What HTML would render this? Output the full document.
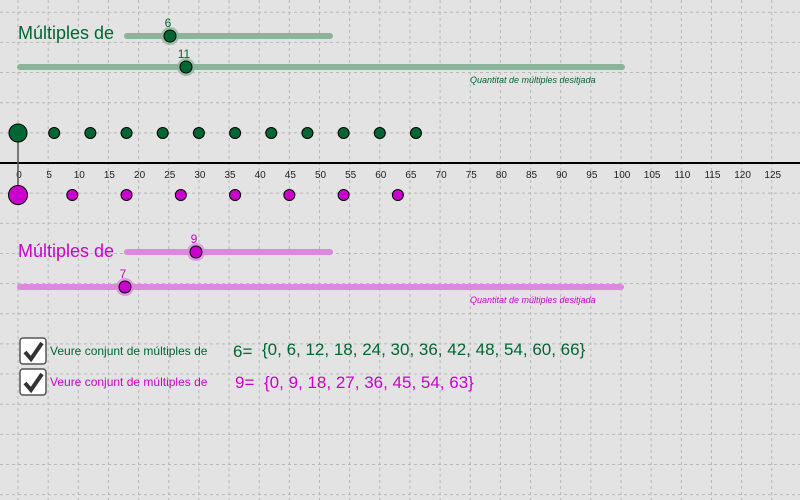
<!DOCTYPE html>
<html><head><meta charset="utf-8"><style>
body{margin:0;background:#e3e3e3;}
svg{display:block;font-family:"Liberation Sans",sans-serif;}
</style></head><body>
<svg id="c" width="800" height="500"></svg>
<script>
const ticks=[0,5,10,15,20,25,30,35,40,45,50,55,60,65,70,75,80,85,90,95,100,105,110,115,120,125];
const base1=6, count1=11;
const base2=9, count2=7;
const set1=[0,6,12,18,24,30,36,42,48,54,60,66];
const set2=[0,9,18,27,36,45,54,63];
const svg=document.getElementById('c');
const NS='http://www.w3.org/2000/svg';
const x0=18, sc=6.03, yAxis=163;
const X=v=>x0+v*sc;
function mk(t,a,p){const e=document.createElementNS(NS,t);for(const k in a)e.setAttribute(k,a[k]);(p||svg).appendChild(e);return e;}
const g=mk('g',{stroke:'#b8b8b8','stroke-dasharray':'3,3','stroke-width':1});


for(let x=x0;x<800;x+=30.15)mk('line',{x1:x,y1:0,x2:x,y2:500},g);
for(let y=yAxis;y>0;y-=30.15)mk('line',{x1:0,y1:y,x2:800,y2:y},g);
for(let y=yAxis;y<500;y+=30.15)mk('line',{x1:0,y1:y,x2:800,y2:y},g);
const ax=mk('line',{x1:0,y1:yAxis,x2:800,y2:yAxis,stroke:'#000','stroke-width':2});


ticks.forEach(t=>{const e=mk('text',{x:X(t)+1,y:yAxis+15,'font-size':10,'text-anchor':'middle',fill:'#222'});e.textContent=t;

});
mk('line',{x1:X(0),y1:133,x2:X(0),y2:195,stroke:'#555','stroke-width':1.5});
set1.forEach((v,i)=>{const c=mk('circle',{cx:X(v),cy:133,r:i==0?9:5.5,fill:'#006633',stroke:'#000','stroke-width':1});

});
set2.forEach((v,i)=>{const c=mk('circle',{cx:X(v),cy:195,r:i==0?9.5:5.5,fill:'#cc00cc',stroke:'#000','stroke-width':1});

});
function slider(x1,x2,y,kx,label,col,track,name){
 const l=mk('line',{x1:x1,y1:y,x2:x2,y2:y,stroke:track,'stroke-width':6,'stroke-linecap':'round'});
 
 
 mk('circle',{cx:kx,cy:y,r:9,fill:track,opacity:0.8});
 const k=mk('circle',{cx:kx,cy:y,r:6,fill:col,stroke:'#000','stroke-width':1});
 
 
 const t=mk('text',{x:kx-2,y:y-9,'font-size':12,'text-anchor':'middle',fill:col});t.textContent=label;
}
function txt(x,y,s,size,col,name,style){const t=mk('text',{x:x,y:y,'font-size':size,fill:col});if(style)t.setAttribute('font-style',style);t.textContent=s;

return t;}
txt(18,39,'Múltiples de',18,'#006633','title-first');
slider(127,330,36,170,base1,'#006633','#8ab59b','base-slider-first');
slider(20,622,67,186,count1,'#006633','#8ab59b','count-slider-first');
txt(470,83,'Quantitat de múltiples desitjada',9,'#006633','count-caption-first','italic');
txt(18,257,'Múltiples de',18,'#cc00cc','title-second');
slider(127,330,252,196,base2,'#cc00cc','#dc88dc','base-slider-second');
slider(20,621,287,125,count2,'#cc00cc','#dc88dc','count-slider-second');
txt(470,303,'Quantitat de múltiples desitjada',9,'#cc00cc','count-caption-second','italic');
function checkbox(y,name){const r=mk('rect',{x:20,y:y,width:26,height:26,rx:3,fill:'#fff',stroke:'#555','stroke-width':1.5});


mk('path',{d:`M25 ${y+14} L31 ${y+21} L42 ${y+5}`,fill:'none',stroke:'#333','stroke-width':4});}
checkbox(338,'show-set-first-checkbox');
checkbox(369,'show-set-second-checkbox');
txt(50,355,'Veure conjunt de múltiples de',12,'#006633','show-set-first-label');
txt(50,386,'Veure conjunt de múltiples de',12,'#cc00cc','show-set-second-label');
txt(233,357,base1+'=',17,'#006633','base-first-value');
txt(262,355,'{'+set1.join(', ')+'}',17,'#006633','set-first-text');
txt(235,388,base2+'=',17,'#cc00cc','base-second-value');
txt(264,388,'{'+set2.join(', ')+'}',17,'#cc00cc','set-second-text');
</script>
</body></html>
